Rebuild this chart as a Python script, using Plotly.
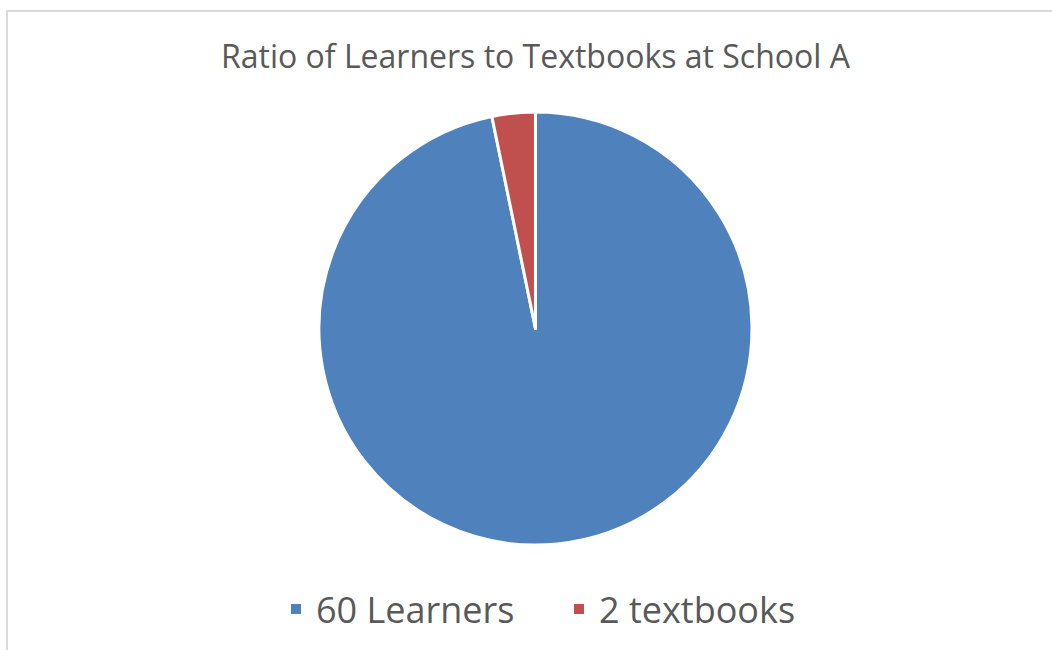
import plotly.graph_objects as go

labels = ["60 Learners", "2 textbooks"]
values = [60, 2]
colors = ["#4F81BD", "#C0504D"]
title_text = "Ratio of Learners to Textbooks at School A"

fig = go.Figure(go.Pie(
    labels=labels,
    values=values,
    sort=False,
    direction="clockwise",
    rotation=0,
    textinfo="none",
    hoverinfo="label+value",
    marker=dict(colors=colors, line=dict(color="white", width=3)),
    domain=dict(x=[0.3032, 0.7148], y=[0.1615, 0.8277]),
))

fig.update_layout(
    width=1052,
    height=650,
    margin=dict(l=0, r=0, t=0, b=0),
    paper_bgcolor="white",
    plot_bgcolor="white",
    title=dict(text=title_text, x=0.509, xanchor="center", y=0.912, yanchor="middle",
               font=dict(family="Open Sans", size=32, color="#595959")),
    legend=dict(orientation="h", x=276/1052, xanchor="left", y=0.063, yanchor="middle",
                font=dict(family="Open Sans", size=36, color="#595959"),
                entrywidth=238, entrywidthmode="pixels",
                itemsizing="constant"),
    shapes=[dict(type="rect", xref="paper", yref="paper",
                 x0=7/1052, x1=1.05, y0=-0.05, y1=1 - 11/650,
                 line=dict(color="#D9D9D9", width=2), layer="below")],
)

fig.write_html("out.html")
